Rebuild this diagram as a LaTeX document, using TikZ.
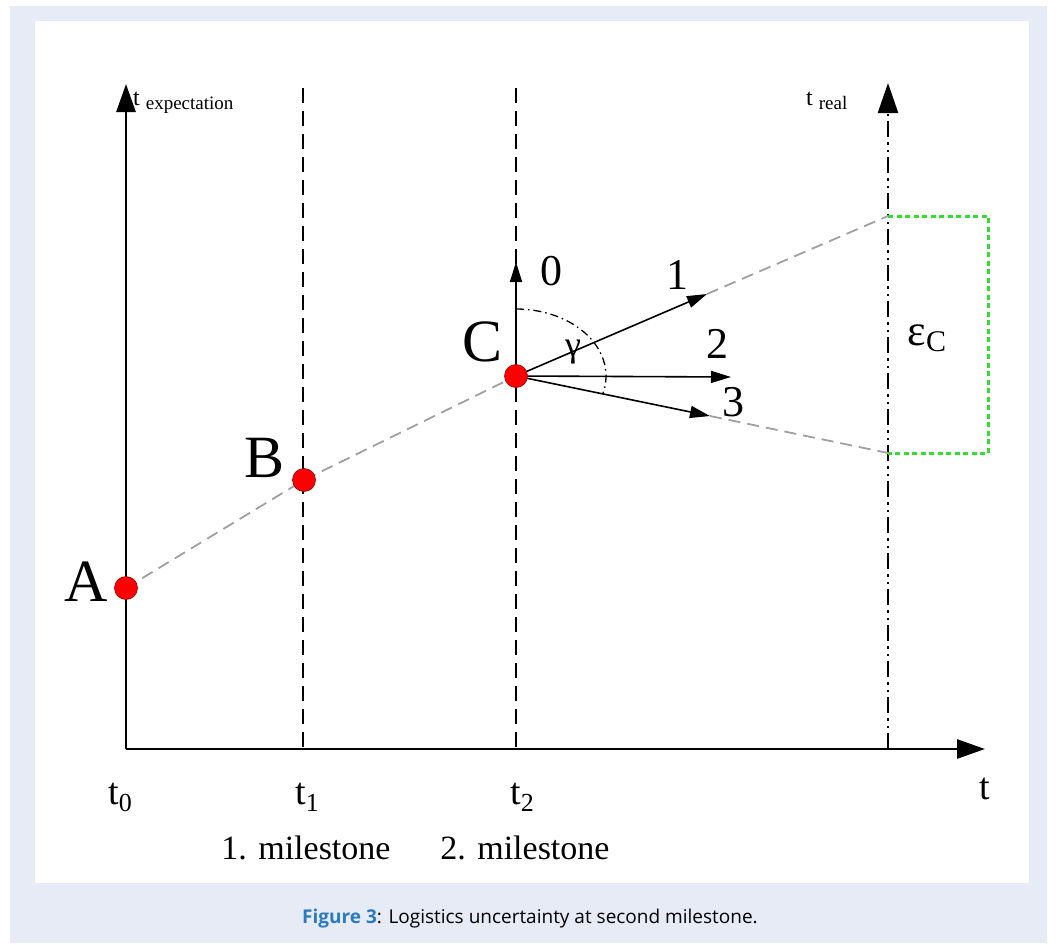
\documentclass[tikz,border=0pt]{standalone}
\usepackage{fontspec}
\setmainfont{Liberation Serif}
\newfontfamily\capfont{Open Sans}
\usetikzlibrary{arrows.meta,calc}
\definecolor{panel}{HTML}{E7EBF6}
\definecolor{capblue}{HTML}{2B7BBF}
\definecolor{boxgreen}{HTML}{33DD33}
\definecolor{trendgray}{HTML}{A0A0A0}
\definecolor{dotred}{HTML}{FF0000}
\newcommand{\fs}[1]{\fontsize{#1}{#1}\selectfont}
\begin{document}
\begin{tikzpicture}[x=1pt,y=-1pt,
  axisline/.style={line width=2.8pt,-{Triangle[length=28pt,width=19pt]}},
  milestoneline/.style={line width=1.8pt,dash pattern=on 15pt off 8pt},
  realline/.style={line width=2.4pt,dash pattern=on 16pt off 5pt on 2.5pt off 5pt on 2.5pt off 5pt,-{Triangle[length=30pt,width=20pt]}},
  trendline/.style={draw=trendgray,line width=1.8pt,dash pattern=on 12pt off 7pt},
  dirarrow/.style={line width=1.6pt,-{Triangle[length=20pt,width=12pt]}},
  greenbox/.style={draw=boxgreen,line width=3pt,dash pattern=on 5pt off 3.5pt},
  dot/.style={circle,fill=dotred,draw=red!60!black,line width=0.6pt,minimum size=23pt,inner sep=0pt},
  lbl/.style={inner sep=0pt,anchor=center}]
\useasboundingbox (0,0) rectangle (1058,945);
\fill[panel] (10,6) rectangle (1047,943);
\fill[white] (35,21) rectangle (1029,883);
% coordinates
\coordinate (O) at (126,749);
\coordinate (ytip) at (126,84);
\coordinate (xtip) at (985,749);
\coordinate (m1top) at (303,88);
\coordinate (m1bot) at (303,749);
\coordinate (m2top) at (516,88);
\coordinate (m2bot) at (516,749);
\coordinate (rbot) at (888,749);
\coordinate (rtip) at (888,83);
\coordinate (A) at (126,588);
\coordinate (B) at (304,480);
\coordinate (C) at (516,376);
\coordinate (e0) at (516,262);
\coordinate (e1) at (707,294);
\coordinate (e2) at (731,377);
\coordinate (e3) at (710,416);
\coordinate (r1) at (888,216);
\coordinate (r3) at (888,453);
\coordinate (g1) at (988,216);
\coordinate (g3) at (988,453);
\coordinate (arcstart) at ($(C)+(0,-67)$);
% axes and milestones
\draw[milestoneline] (m1top) -- (m1bot);
\draw[milestoneline] (m2top) -- (m2bot);
\draw[realline] (rbot) -- (rtip);
\draw[axisline] (O) -- (ytip);
\draw[axisline] (O) -- (xtip);
% trend
\draw[trendline] (A) -- (B) -- (C);
\draw[trendline] (e1) -- (r1);
\draw[trendline] (e3) -- (r3);
% green box
\draw[greenbox] (r1) -- (g1) -- (g3) -- (r3);
% direction arrows
\draw[dirarrow] (C) -- (e0);
\draw[dirarrow] (C) -- (e1);
\draw[dirarrow] (C) -- (e2);
\draw[dirarrow] (C) -- (e3);
\draw[line width=1.3pt,dash pattern=on 8pt off 4pt on 1.5pt off 4pt] (arcstart) arc[start angle=-90,end angle=15,x radius=90,y radius=67];
% points
\node[dot] (Ad) at (A) {};
\node[dot] (Bd) at (B) {};
\node[dot] (Cd) at (C) {};
% labels
\node[lbl] (lA) at (86,582) {\fs{60}A};
\node[lbl] (lB) at (265,458) {\fs{60}B};
\node[lbl] (lC) at (483,342) {\fs{60}C};
\node[lbl] (l0) at (551,271) {\fs{44}0};
\node[lbl] (l1) at (677,275) {\fs{44}1};
\node[lbl] (l2) at (717,344) {\fs{44}2};
\node[lbl] (l3) at (733,402) {\fs{44}3};
\node[lbl] (lg) at (573,352) {\fs{36}γ};
\node[lbl] (leps) at (927,338) {\fs{44}ε\fs{30}\raisebox{-6pt}{C}};
\node[lbl,anchor=base west] (lte) at (133,105) {\fs{24}t \fs{19}\raisebox{-4pt}{expectation}};
\node[lbl,anchor=base west] (ltr) at (806,105) {\fs{24}t \fs{19}\raisebox{-4pt}{real}};
\node[lbl] (t0) at (120,797) {\fs{38}t\fs{26}\raisebox{-7pt}{0}};
\node[lbl] (t1) at (307,797) {\fs{38}t\fs{26}\raisebox{-7pt}{1}};
\node[lbl] (t2) at (522,797) {\fs{38}t\fs{26}\raisebox{-7pt}{2}};
\node[lbl] (tt) at (985,789) {\fs{38}t};
\node[lbl] (ms1) at (306,848) {\fs{34}1. milestone};
\node[lbl] (ms2) at (525,848) {\fs{34}2. milestone};
\node[lbl] (cap) at (530,919) {\capfont\fs{19}\textcolor{capblue}{\bfseries Figure 3}: Logistics uncertainty at second milestone.};
\end{tikzpicture}
\end{document}
